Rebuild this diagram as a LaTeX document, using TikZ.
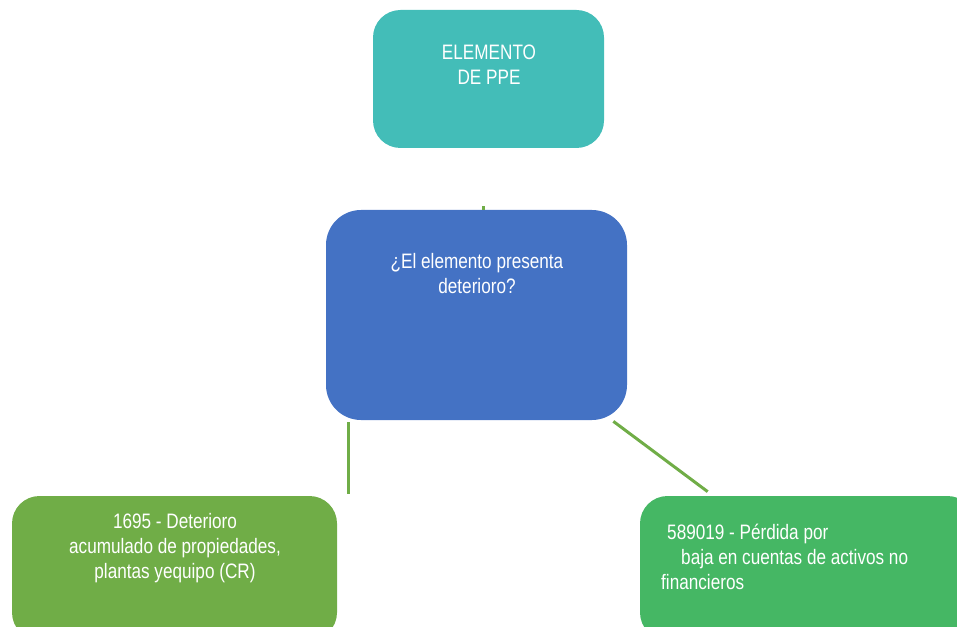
\documentclass[tikz,border=0pt]{standalone}
\usepackage{fontspec}
\setmainfont[FakeStretch=0.82]{Liberation Sans}
\usetikzlibrary{positioning, calc}
\definecolor{boxTeal}{HTML}{43BDB8}
\definecolor{boxBlue}{HTML}{4472C4}
\definecolor{boxGreen}{HTML}{70AD47}
\definecolor{boxLeaf}{HTML}{45B764}
\definecolor{lineGreen}{HTML}{70AD47}

\begin{document}
\begin{tikzpicture}[
    box/.style={rounded corners=0.55cm, inner sep=0pt},
    txt/.style={text=white, font=\fontsize{11.9}{14.2}\selectfont, align=center},
    link/.style={draw=lineGreen, line width=1.7pt},
]
\useasboundingbox (0,0) rectangle (19.14,12.52);
\clip (0,0) rectangle (19.14,12.52);
% Boxes
\node[box, fill=boxTeal, minimum width=4.62cm, minimum height=2.76cm]
    (elem) at (9.77,10.94) {};
\node[box, fill=boxBlue, rounded corners=0.7cm, minimum width=6.02cm,
      minimum height=4.2cm] (quest) at (9.53,6.22) {};
\node[box, fill=boxGreen, minimum width=6.5cm, minimum height=2.88cm]
    (acum) at (3.49,1.16) {};
\node[box, fill=boxLeaf, minimum width=6.7cm, minimum height=2.88cm]
    (perd) at (16.15,1.16) {};

% Texts
\node[txt] (elemT) at (9.78,11.23) {ELEMENTO\\DE PPE};
\node[txt] (questT) at (9.54,7.04) {¿El elemento presenta\\deterioro?};
\node[txt] (acumT) at (3.5,1.56)
    {1695 - Deterioro\\acumulado de propiedades,\\plantas yequipo (CR)};
\node[txt, align=left, anchor=west] (perdT) at (13.1,1.38)
    {\hspace{0.12cm}589019 - Pérdida por\\\hspace{0.4cm}baja en cuentas de activos no\\financieros};

% Connectors
\coordinate (tick) at ([xshift=0.14cm, yshift=0.07cm]quest.north);
\coordinate (qL) at ([xshift=0.46cm, yshift=-0.04cm]quest.south west);
\coordinate (aR) at ([xshift=0.24cm, yshift=0.04cm]acum.north east);
\coordinate (qR) at ([xshift=-0.28cm, yshift=-0.02cm]quest.south east);
\coordinate (pL) at ([xshift=1.36cm, yshift=0.08cm]perd.north west);
\draw[link] ([xshift=0.14cm]quest.north) -- (tick);
\draw[link] (qL) -- (qL |- aR);
\draw[link] (qR) -- (pL);
\end{tikzpicture}
\end{document}
